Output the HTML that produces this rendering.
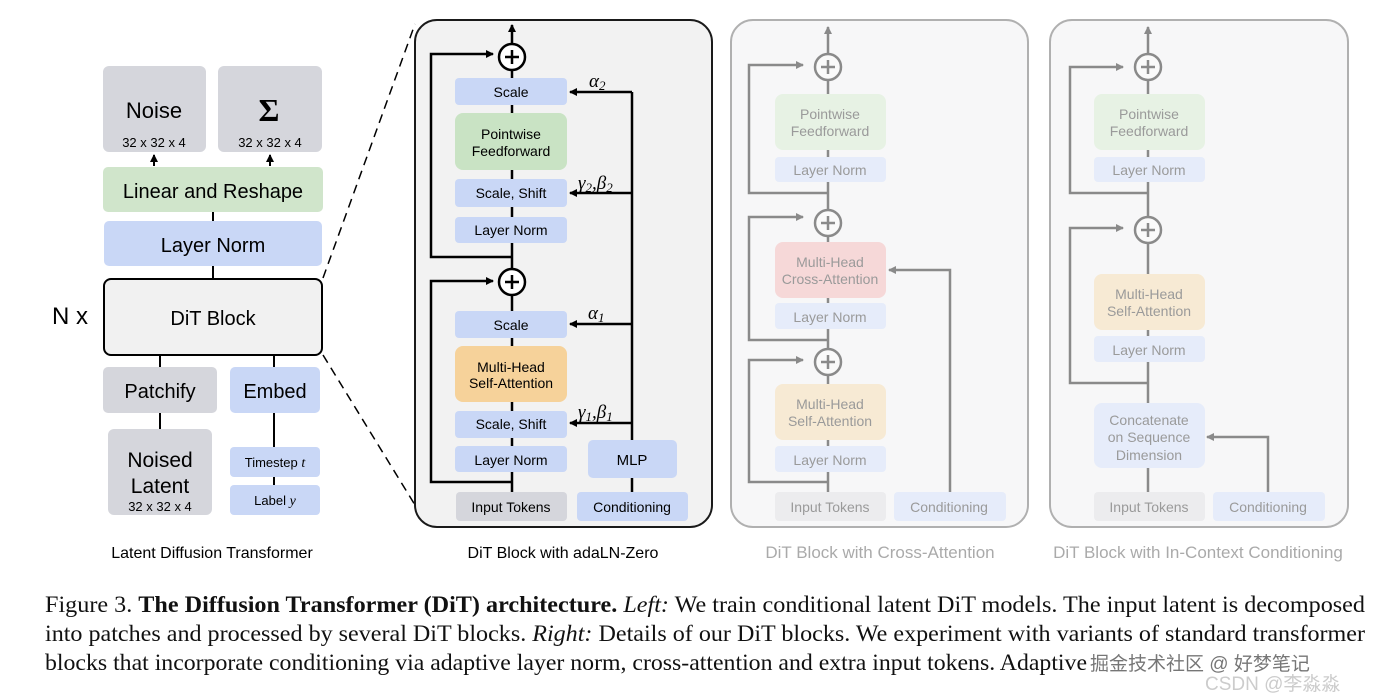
<!DOCTYPE html>
<html><head><meta charset="utf-8"><style>
html,body{margin:0;padding:0;background:#fff;}
svg{display:block;}
.s{font-family:"Liberation Sans",sans-serif;}
.m{font-family:"Liberation Serif",serif;font-style:italic;}
</style></head><body>
<svg width="1392" height="700" viewBox="0 0 1392 700" xmlns="http://www.w3.org/2000/svg">
<defs>
<marker id="a" markerWidth="8" markerHeight="8" refX="7" refY="4" orient="auto" markerUnits="userSpaceOnUse"><path d="M0,0 L8,4 L0,8 z" fill="#000"/></marker>
<marker id="g" markerWidth="8" markerHeight="8" refX="7" refY="4" orient="auto" markerUnits="userSpaceOnUse"><path d="M0,0 L8,4 L0,8 z" fill="#8a8a8a"/></marker>
</defs>
<rect width="1392" height="700" fill="#fff"/>

<!-- LEFT -->
<g class="s" text-anchor="middle">
<rect x="103" y="66" width="103" height="86" rx="6" fill="#d5d6dc"/>
<text x="154" y="118" font-size="22">Noise</text>
<text x="154" y="147" font-size="13">32 x 32 x 4</text>
<rect x="218" y="66" width="104" height="86" rx="6" fill="#d5d6dc"/>
<text x="269" y="121" font-size="32" font-family="Liberation Serif,serif" font-weight="bold">Σ</text>
<text x="270" y="147" font-size="13">32 x 32 x 4</text>
<line x1="154" y1="166" x2="154" y2="155" stroke="#000" stroke-width="2" marker-end="url(#a)"/>
<line x1="270" y1="166" x2="270" y2="155" stroke="#000" stroke-width="2" marker-end="url(#a)"/>
<rect x="103" y="167" width="220" height="45" rx="5" fill="#d0e5cb"/>
<text x="213" y="198" font-size="20">Linear and Reshape</text>
<line x1="213" y1="212" x2="213" y2="221" stroke="#000" stroke-width="2"/>
<rect x="104" y="221" width="218" height="45" rx="5" fill="#c9d7f6"/>
<text x="213" y="252" font-size="20">Layer Norm</text>
<line x1="213" y1="266" x2="213" y2="279" stroke="#000" stroke-width="2"/>
<rect x="104" y="279" width="218" height="76" rx="7" fill="#f1f1f1" stroke="#000" stroke-width="2"/>
<text x="213" y="325" font-size="20">DiT Block</text>
<text x="70" y="324" font-size="24">N x</text>
<line x1="160" y1="355" x2="160" y2="367" stroke="#000" stroke-width="2"/>
<line x1="274" y1="355" x2="274" y2="367" stroke="#000" stroke-width="2"/>
<rect x="103" y="367" width="114" height="46" rx="5" fill="#d5d6dc"/>
<text x="160" y="398" font-size="20">Patchify</text>
<rect x="230" y="367" width="90" height="46" rx="5" fill="#c9d7f6"/>
<text x="275" y="398" font-size="20">Embed</text>
<line x1="160" y1="413" x2="160" y2="429" stroke="#000" stroke-width="2"/>
<line x1="274" y1="413" x2="274" y2="447" stroke="#000" stroke-width="2"/>
<line x1="274" y1="477" x2="274" y2="485" stroke="#000" stroke-width="2"/>
<rect x="108" y="429" width="104" height="86" rx="6" fill="#d5d6dc"/>
<text x="160" y="467" font-size="21">Noised</text>
<text x="160" y="493" font-size="21">Latent</text>
<text x="160" y="511" font-size="13">32 x 32 x 4</text>
<rect x="230" y="447" width="90" height="30" rx="4" fill="#c9d7f6"/>
<text x="275" y="467" font-size="13">Timestep <tspan class="m" font-size="14">t</tspan></text>
<rect x="230" y="485" width="90" height="30" rx="4" fill="#c9d7f6"/>
<text x="275" y="505" font-size="13">Label <tspan class="m" font-size="14">y</tspan></text>
<text x="212" y="558" font-size="16">Latent Diffusion Transformer</text>
</g>
<line x1="323" y1="278" x2="415" y2="24" stroke="#000" stroke-width="1.5" stroke-dasharray="9,6"/>
<line x1="323" y1="355" x2="415" y2="505" stroke="#000" stroke-width="1.5" stroke-dasharray="9,6"/>

<!-- PANEL 2 -->
<rect x="415" y="20" width="297" height="507" rx="22" fill="#f2f2f2" stroke="#1a1a1a" stroke-width="2"/>
<g stroke="#000" stroke-width="2.5" fill="none">
<line x1="512" y1="44" x2="512" y2="25" marker-end="url(#a)"/>
<line x1="512" y1="70" x2="512" y2="269"/>
<line x1="512" y1="295" x2="512" y2="492"/>
<polyline points="512,257 431,257 431,54 493,54" marker-end="url(#a)"/>
<polyline points="512,482 431,482 431,281 493,281" marker-end="url(#a)"/>
<line x1="632" y1="492" x2="632" y2="92"/>
<line x1="632" y1="92" x2="570" y2="92" marker-end="url(#a)"/>
<line x1="632" y1="193" x2="570" y2="193" marker-end="url(#a)"/>
<line x1="632" y1="324" x2="570" y2="324" marker-end="url(#a)"/>
<line x1="632" y1="423" x2="570" y2="423" marker-end="url(#a)"/>
</g>
<g class="s" text-anchor="middle" font-size="14">
<circle cx="512" cy="57" r="13" fill="#fff" stroke="#000" stroke-width="2.5"/>
<path d="M505,57 H519 M512,50 V64" stroke="#000" stroke-width="2.5"/>
<circle cx="512" cy="282" r="13" fill="#fff" stroke="#000" stroke-width="2.5"/>
<path d="M505,282 H519 M512,275 V289" stroke="#000" stroke-width="2.5"/>
<rect x="455" y="78" width="112" height="27" rx="4" fill="#c9d7f6"/><text x="511" y="97">Scale</text>
<rect x="455" y="113" width="112" height="57" rx="8" fill="#c9e3c4"/><text x="511" y="139">Pointwise</text><text x="511" y="156">Feedforward</text>
<rect x="455" y="179" width="112" height="28" rx="4" fill="#c9d7f6"/><text x="511" y="198">Scale, Shift</text>
<rect x="455" y="217" width="112" height="26" rx="4" fill="#c9d7f6"/><text x="511" y="235">Layer Norm</text>
<rect x="455" y="311" width="112" height="27" rx="4" fill="#c9d7f6"/><text x="511" y="330">Scale</text>
<rect x="455" y="346" width="112" height="56" rx="8" fill="#f6d29a"/><text x="511" y="372">Multi-Head</text><text x="511" y="388">Self-Attention</text>
<rect x="455" y="411" width="112" height="27" rx="4" fill="#c9d7f6"/><text x="511" y="429">Scale, Shift</text>
<rect x="455" y="446" width="112" height="26" rx="4" fill="#c9d7f6"/><text x="511" y="465">Layer Norm</text>
<rect x="456" y="492" width="111" height="29" rx="4" fill="#d5d6dc"/><text x="511" y="512">Input Tokens</text>
<rect x="577" y="492" width="111" height="29" rx="4" fill="#c9d7f6"/><text x="632" y="512">Conditioning</text>
<rect x="588" y="440" width="89" height="38" rx="5" fill="#c9d7f6"/><text x="632" y="465" font-size="15">MLP</text>
</g>
<g class="m" font-size="19">
<text x="589" y="87">α<tspan font-size="13" dy="3">2</tspan></text>
<text x="578" y="189">γ<tspan font-size="13" dy="3">2</tspan><tspan dy="-3">,β</tspan><tspan font-size="13" dy="3">2</tspan></text>
<text x="588" y="319">α<tspan font-size="13" dy="3">1</tspan></text>
<text x="578" y="418">γ<tspan font-size="13" dy="3">1</tspan><tspan dy="-3">,β</tspan><tspan font-size="13" dy="3">1</tspan></text>
</g>
<text class="s" x="563" y="558" font-size="16" text-anchor="middle">DiT Block with adaLN-Zero</text>

<!-- PANEL 3 -->
<rect x="731" y="20" width="297" height="507" rx="22" fill="#f7f7f8" stroke="#b0b0b0" stroke-width="2"/>
<g stroke="#8a8a8a" stroke-width="2.5" fill="none">
<line x1="828" y1="54" x2="828" y2="27" marker-end="url(#g)"/>
<line x1="828" y1="80" x2="828" y2="210"/>
<line x1="828" y1="236" x2="828" y2="349"/>
<line x1="828" y1="375" x2="828" y2="492"/>
<polyline points="828,193 749,193 749,65 803,65" marker-end="url(#g)"/>
<polyline points="828,340 749,340 749,217 803,217" marker-end="url(#g)"/>
<polyline points="828,482 749,482 749,360 803,360" marker-end="url(#g)"/>
<polyline points="950,492 950,270 889,270" marker-end="url(#g)"/>
</g>
<g class="s" text-anchor="middle" font-size="14" fill="#9a9a9a">
<circle cx="828" cy="67" r="13" fill="#fafafa" stroke="#8a8a8a" stroke-width="2.5"/><path d="M821,67 H835 M828,60 V74" stroke="#8a8a8a" stroke-width="2.5"/>
<circle cx="828" cy="223" r="13" fill="#fafafa" stroke="#8a8a8a" stroke-width="2.5"/><path d="M821,223 H835 M828,216 V230" stroke="#8a8a8a" stroke-width="2.5"/>
<circle cx="828" cy="362" r="13" fill="#fafafa" stroke="#8a8a8a" stroke-width="2.5"/><path d="M821,362 H835 M828,355 V369" stroke="#8a8a8a" stroke-width="2.5"/>
<rect x="775" y="94" width="111" height="56" rx="8" fill="#e7f2e4"/><text x="830" y="119">Pointwise</text><text x="830" y="136">Feedforward</text>
<rect x="775" y="157" width="111" height="25" rx="4" fill="#e6ecfa"/><text x="830" y="175">Layer Norm</text>
<rect x="775" y="242" width="111" height="56" rx="8" fill="#f6d8d8"/><text x="830" y="267">Multi-Head</text><text x="830" y="284">Cross-Attention</text>
<rect x="775" y="303" width="111" height="26" rx="4" fill="#e6ecfa"/><text x="830" y="322">Layer Norm</text>
<rect x="775" y="384" width="111" height="56" rx="8" fill="#f7ead4"/><text x="830" y="409">Multi-Head</text><text x="830" y="426">Self-Attention</text>
<rect x="775" y="446" width="111" height="26" rx="4" fill="#e6ecfa"/><text x="830" y="465">Layer Norm</text>
<rect x="775" y="492" width="111" height="29" rx="4" fill="#ececee"/><text x="830" y="512">Input Tokens</text>
<rect x="894" y="492" width="112" height="29" rx="4" fill="#e6ecfa"/><text x="949" y="512">Conditioning</text>
<text x="880" y="558" font-size="17" fill="#aaa">DiT Block with Cross-Attention</text>
</g>

<!-- PANEL 4 -->
<rect x="1050" y="20" width="298" height="507" rx="22" fill="#f7f7f8" stroke="#b0b0b0" stroke-width="2"/>
<g stroke="#8a8a8a" stroke-width="2.5" fill="none">
<line x1="1148" y1="54" x2="1148" y2="27" marker-end="url(#g)"/>
<line x1="1148" y1="80" x2="1148" y2="217"/>
<line x1="1148" y1="243" x2="1148" y2="403"/>
<line x1="1148" y1="468" x2="1148" y2="492"/>
<polyline points="1148,193 1070,193 1070,67 1123,67" marker-end="url(#g)"/>
<polyline points="1148,383 1070,383 1070,228 1123,228" marker-end="url(#g)"/>
<polyline points="1268,492 1268,437 1207,437" marker-end="url(#g)"/>
</g>
<g class="s" text-anchor="middle" font-size="14" fill="#9a9a9a">
<circle cx="1148" cy="67" r="13" fill="#fafafa" stroke="#8a8a8a" stroke-width="2.5"/><path d="M1141,67 H1155 M1148,60 V74" stroke="#8a8a8a" stroke-width="2.5"/>
<circle cx="1148" cy="230" r="13" fill="#fafafa" stroke="#8a8a8a" stroke-width="2.5"/><path d="M1141,230 H1155 M1148,223 V237" stroke="#8a8a8a" stroke-width="2.5"/>
<rect x="1094" y="94" width="111" height="56" rx="8" fill="#e7f2e4"/><text x="1149" y="119">Pointwise</text><text x="1149" y="136">Feedforward</text>
<rect x="1094" y="157" width="111" height="25" rx="4" fill="#e6ecfa"/><text x="1149" y="175">Layer Norm</text>
<rect x="1094" y="274" width="111" height="56" rx="8" fill="#f7ead4"/><text x="1149" y="299">Multi-Head</text><text x="1149" y="316">Self-Attention</text>
<rect x="1094" y="336" width="111" height="26" rx="4" fill="#e6ecfa"/><text x="1149" y="355">Layer Norm</text>
<rect x="1094" y="403" width="111" height="65" rx="8" fill="#e6ecfa"/><text x="1149" y="425">Concatenate</text><text x="1149" y="442">on Sequence</text><text x="1149" y="460">Dimension</text>
<rect x="1094" y="492" width="111" height="29" rx="4" fill="#ececee"/><text x="1149" y="512">Input Tokens</text>
<rect x="1213" y="492" width="112" height="29" rx="4" fill="#e6ecfa"/><text x="1268" y="512">Conditioning</text>
<text x="1198" y="558" font-size="17" fill="#aaa">DiT Block with In-Context Conditioning</text>
</g>

<!-- CAPTION -->
<g font-family="Liberation Serif,serif" font-size="23" fill="#111">
<text x="45" y="612" textLength="1320" lengthAdjust="spacingAndGlyphs">Figure 3. <tspan font-weight="bold">The Diffusion Transformer (DiT) architecture.</tspan> <tspan font-style="italic">Left:</tspan> We train conditional latent DiT models. The input latent is decomposed</text>
<text x="45" y="641" textLength="1320" lengthAdjust="spacingAndGlyphs">into patches and processed by several DiT blocks. <tspan font-style="italic">Right:</tspan> Details of our DiT blocks. We experiment with variants of standard transformer</text>
<text x="45" y="670" textLength="1042" lengthAdjust="spacingAndGlyphs">blocks that incorporate conditioning via adaptive layer norm, cross-attention and extra input tokens. Adaptive</text>
</g>
<text x="1090" y="670" font-family="Liberation Sans,'Noto Sans CJK SC',sans-serif" font-size="19" fill="#555" opacity="0.8">掘金技术社区 @ 好梦笔记</text>
<text x="1205" y="690" font-family="Liberation Sans,'Noto Sans CJK SC',sans-serif" font-size="19" fill="#ccc">CSDN @李淼淼</text>
</svg>
</body></html>
